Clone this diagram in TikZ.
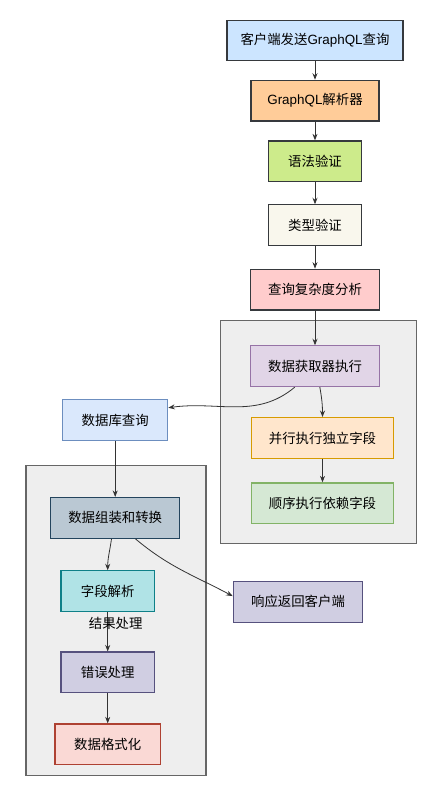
\documentclass[tikz,border=0pt]{standalone}
\usepackage{fontspec}
\setmainfont{Liberation Sans}
\newfontfamily\cjk{Noto Sans CJK SC}
\usepackage{tikz}
\usetikzlibrary{positioning,shapes,arrows,arrows.meta}

\definecolor{darkline}{HTML}{36393D}
\definecolor{edgeline}{HTML}{333333}
\definecolor{groupfill}{HTML}{EEEEEE}
\definecolor{groupline}{HTML}{666666}
\definecolor{clientfill}{HTML}{CCE5FF}
\definecolor{parserfill}{HTML}{FFCC99}
\definecolor{syntaxfill}{HTML}{CDEB8B}
\definecolor{typefill}{HTML}{F9F7ED}
\definecolor{complexfill}{HTML}{FFCCCC}
\definecolor{purplefill}{HTML}{E1D5E7}
\definecolor{purpleline}{HTML}{9673A6}
\definecolor{bluefill}{HTML}{DAE8FC}
\definecolor{blueline}{HTML}{6C8EBF}
\definecolor{orangefill}{HTML}{FFE6CC}
\definecolor{orangeline}{HTML}{D79B00}
\definecolor{greenfill}{HTML}{D5E8D4}
\definecolor{greenline}{HTML}{82B366}
\definecolor{slatefill}{HTML}{BAC8D3}
\definecolor{slateline}{HTML}{23445D}
\definecolor{tealfill}{HTML}{B0E3E6}
\definecolor{tealline}{HTML}{0E8088}
\definecolor{lilacfill}{HTML}{D0CEE2}
\definecolor{lilacline}{HTML}{56517E}
\definecolor{redfill}{HTML}{FAD9D5}
\definecolor{redline}{HTML}{AE4132}

\begin{document}
\begin{tikzpicture}[->,>={Stealth[length=6.5pt,width=5pt]},x=1pt,y=1pt,
    link/.style={draw=edgeline, line width=0.8pt},
    box/.style 2 args={draw=#2, fill=#1, rectangle, line width=1.2pt,
        minimum height=40.7pt, inner sep=0pt, text=black,
        font=\cjk\fontsize{13.4}{16}\selectfont},
    groupbox/.style={-, draw=groupline, fill=groupfill, line width=1.5pt},
    edgelabel/.style={text=black, font=\cjk\fontsize{13.4}{16}\selectfont}]
    \useasboundingbox (0,0) rectangle (439,-798);

    % groups
    \draw[groupbox] (220.7,-320.7) rectangle (416.7,-543.3);
    \draw[groupbox] (26,-465.7) rectangle (206,-775.7);

    % client -> parser -> checks -> fetch
    \node[box={clientfill}{darkline}, minimum width=176pt] (client) at (315,-40.5) {客户端发送{\rmfamily GraphQL}查询};
    \node[box={parserfill}{darkline}, minimum width=128pt, below=18.3pt of client] (parser) {{\rmfamily GraphQL}解析器};
    \node[box={syntaxfill}{darkline}, minimum width=93pt, below=18.7pt of parser] (syntax) {语法验证};
    \node[box={typefill}{darkline}, minimum width=93pt, below=22pt of syntax] (typecheck) {类型验证};
    \node[box={complexfill}{darkline}, minimum width=129.3pt, below=22.5pt of typecheck] (complexity) {查询复杂度分析};
    \node[box={purplefill}{purpleline}, minimum width=129.3pt, below=34.7pt of complexity] (fetch) {数据获取器执行};
    \node[box={orangefill}{orangeline}, minimum width=141.6pt] (parallel) at (322.5,-438) {并行执行独立字段};
    \node[box={greenfill}{greenline}, minimum width=141.6pt, below=23.4pt of parallel] (sequential) {顺序执行依赖字段};

    % database -> assembly
    \node[box={bluefill}{blueline}, minimum width=105pt] (dbquery) at (115.2,-420) {数据库查询};
    \node[box={slatefill}{slateline}, minimum width=129.3pt, below=56pt of dbquery] (assemble) {数据组装和转换};
    \node[box={tealfill}{tealline}, minimum width=93.3pt] (field) at (107.7,-591.2) {字段解析};
    \node[box={lilacfill}{lilacline}, minimum width=93.3pt, below=39.3pt of field] (error) {错误处理};
    \node[box={redfill}{redline}, minimum width=105.6pt, below=30pt of error] (format) {数据格式化};
    \node[box={lilacfill}{lilacline}, minimum width=129.4pt] (response) at (298,-601.8) {响应返回客户端};

    \draw[link] (client) -- (parser);
    \draw[link] (parser) -- (syntax);
    \draw[link] (syntax) -- (typecheck);
    \draw[link] (typecheck) -- (complexity);
    \draw[link] (complexity) -- (fetch);
    \draw[link] (fetch.226) to[out=-140,in=8] (dbquery.13);
    \draw[link] (fetch.283) to[out=-80,in=90] (parallel.north);
    \draw[link] (parallel) -- (sequential);
    \draw[link] (dbquery) -- (assemble);
    \draw[link] (assemble.260) to[out=-98,in=90] (field.north);
    \draw[link] (assemble.314) to[out=-40,in=152] (response.175);
    \draw[link] (field) -- node[edgelabel, pos=0.28, xshift=8pt] {结果处理} (error);
    \draw[link] (error) -- (format);
\end{tikzpicture}
\end{document}
